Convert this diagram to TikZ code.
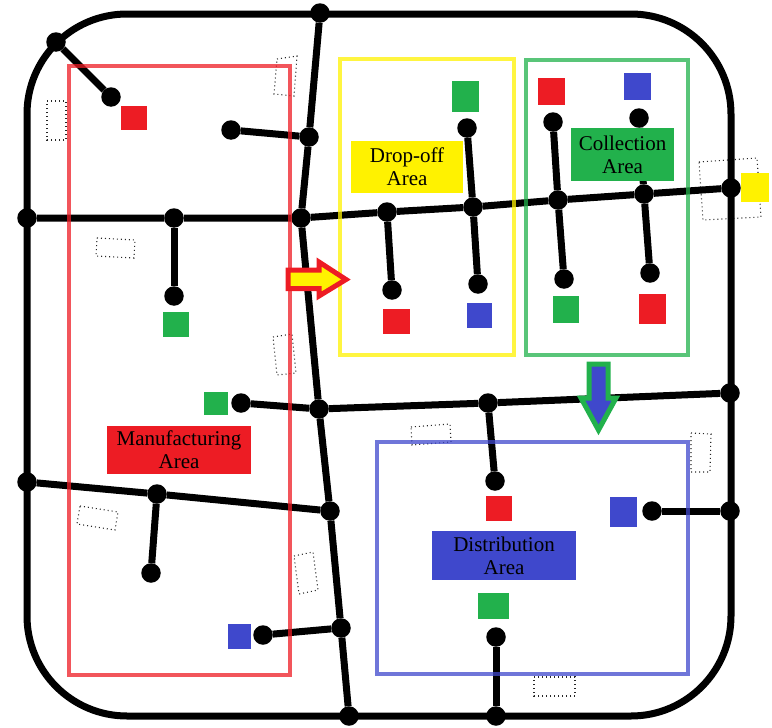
\documentclass[tikz,border=0pt]{standalone}
\usepackage{fontspec}
\setmainfont{Liberation Serif}
\definecolor{cred}{HTML}{ED1C24}
\definecolor{cyel}{HTML}{FFF200}
\definecolor{cgrn}{HTML}{22B14C}
\definecolor{cblu}{HTML}{3F48CC}
\newcommand{\boxnode}[7][]{%
  \pgfmathsetmacro{\bcx}{(#4+#6)/2}\pgfmathsetmacro{\bcy}{(#5+#7)/2}%
  \pgfmathsetmacro{\bw}{#6-#4}\pgfmathsetmacro{\bh}{#7-#5}%
  \node[#2,minimum width=\bw pt,minimum height=\bh pt] (#3) at (\bcx,\bcy) {#1};}
\tikzset{
  road/.style={line width=7pt,black},
  dotn/.style={circle,fill=black,inner sep=0pt,outer sep=0pt,minimum size=19.5pt},
  sq/.style={inner sep=0pt,outer sep=0pt,rectangle},
  area/.style={rectangle,inner sep=0pt,outer sep=0pt,line width=4.5pt,draw opacity=.75},
  label/.style={rectangle,inner sep=0pt,outer sep=0pt,align=center,text=black,font=\fontsize{21}{23}\selectfont},
  plot/.style={line width=1.1pt,dash pattern=on 1pt off 3pt,black!85},
  flow/.style={line width=5pt,line join=miter}
}
\begin{document}
\begin{tikzpicture}[x=1pt,y=-1pt]
\useasboundingbox (0,0) rectangle (772,728);
% dotted plots
\draw[plot] (47,101) -- (66,101) -- (66,140) -- (47,140) -- cycle;
\draw[plot] (277,59) -- (297,56) -- (294,96) -- (274,94) -- cycle;
\draw[plot] (97,238) -- (135,240) -- (134,258) -- (96,256) -- cycle;
\draw[plot] (273,337) -- (292,334) -- (296,373) -- (277,375) -- cycle;
\draw[plot] (80,506) -- (118,512) -- (115,530) -- (77,524) -- cycle;
\draw[plot] (294,556) -- (313,552) -- (318,590) -- (299,594) -- cycle;
\draw[plot] (411,427) -- (450,424) -- (451,442) -- (412,445) -- cycle;
\draw[plot] (691,433) -- (711,434) -- (710,472) -- (691,472) -- cycle;
\draw[plot] (534,677) -- (575,677) -- (575,696) -- (534,696) -- cycle;
\draw[plot] (699,162) -- (757,158) -- (761,217) -- (703,220) -- cycle;
% outer ring road
\draw[road,rounded corners=100pt] (27,14) rectangle (731,716);
% junctions
\foreach \n/\x/\y in {
  a/320/13,b/309/137,c/301/218,d/319/409,e/330/511,f/341/628,g/349/716,
  h/27/218,i/174/218,j/387/212,k/473/207,l/558/200,m/644/194,n/731/188,
  o/488/403,p/730/393,q/27/482,r/157/494,
  s/56/42,t/111/97,u/231/130,v/174/296,w/392/290,x/467/128,y/478/284,
  z/553/122,aa/564/279,ab/639/118,ac/650/273,ad/241/403,ae/495/481,
  af/151/573,ag/263/635,ah/652/511,ai/730/511,aj/496/637,ak/496/716}
  {\node[dotn] (\n) at (\x,\y) {};}
% roads
\draw[road] (a) -- (b) -- (c) -- (d) -- (e) -- (f) -- (g);
\draw[road] (h) -- (i) -- (c) -- (j) -- (k) -- (l) -- (m) -- (n);
\draw[road] (d) -- (o) -- (p);
\draw[road] (q) -- (r) -- (e);
\draw[road] (s) -- (t);
\draw[road] (u) -- (b);
\draw[road] (i) -- (v);
\draw[road] (j) -- (w);
\draw[road] (x) -- (k) -- (y);
\draw[road] (z) -- (l) -- (aa);
\draw[road] (ab) -- (m) -- (ac);
\draw[road] (ad) -- (d);
\draw[road] (o) -- (ae);
\draw[road] (r) -- (af);
\draw[road] (ag) -- (f);
\draw[road] (ah) -- (ai);
\draw[road] (aj) -- (ak);
% areas
\boxnode{area,draw=cred}{A1}{69}{66}{290}{675}
\boxnode{area,draw=cyel}{A2}{340}{59}{514}{355}
\boxnode{area,draw=cgrn}{A3}{526}{60}{688}{355}
\boxnode{area,draw=cblu}{A4}{377}{442}{688}{674}
% squares
\boxnode{sq,fill=cred}{s1}{121}{106}{147}{130}
\boxnode{sq,fill=cgrn}{s2}{163}{312}{189}{337}
\boxnode{sq,fill=cgrn}{s3}{204}{392}{228}{415}
\boxnode{sq,fill=cblu}{s4}{228}{624}{251}{649}
\boxnode{sq,fill=cred}{s5}{383}{309}{410}{334}
\boxnode{sq,fill=cgrn}{s6}{452}{81}{479}{112}
\boxnode{sq,fill=cblu}{s7}{467}{303}{492}{328}
\boxnode{sq,fill=cred}{s8}{538}{78}{565}{105}
\boxnode{sq,fill=cblu}{s9}{624}{73}{651}{100}
\boxnode{sq,fill=cgrn}{s10}{553}{296}{579}{323}
\boxnode{sq,fill=cred}{s11}{639}{294}{666}{324}
\boxnode{sq,fill=cyel}{s12}{741}{173}{769}{202}
\boxnode{sq,fill=cred}{s13}{486}{496}{512}{521}
\boxnode{sq,fill=cblu}{s14}{610}{497}{637}{527}
\boxnode{sq,fill=cgrn}{s15}{478}{593}{509}{619}
% labels
\boxnode[Manufacturing\\Area]{label,fill=cred}{L1}{107}{426}{251}{474}
\boxnode[Drop-off\\Area]{label,fill=cyel}{L2}{351}{141}{463}{193}
\boxnode[Collection\\Area]{label,fill=cgrn}{L3}{571}{128}{674}{181}
\boxnode[Distribution\\Area]{label,fill=cblu}{L4}{432}{531}{576}{580}
% flow arrows
\draw[flow,draw=cred,fill=cyel] (288,270) -- (319,270) -- (319,262) -- (346,279.5) -- (319,296) -- (319,288.5) -- (288,288.5) -- cycle;
\draw[flow,draw=cgrn,fill=cblu] (589,364) -- (608,364) -- (608,398) -- (616,398) -- (598.5,430) -- (581,398) -- (589,398) -- cycle;
\end{tikzpicture}
\end{document}
